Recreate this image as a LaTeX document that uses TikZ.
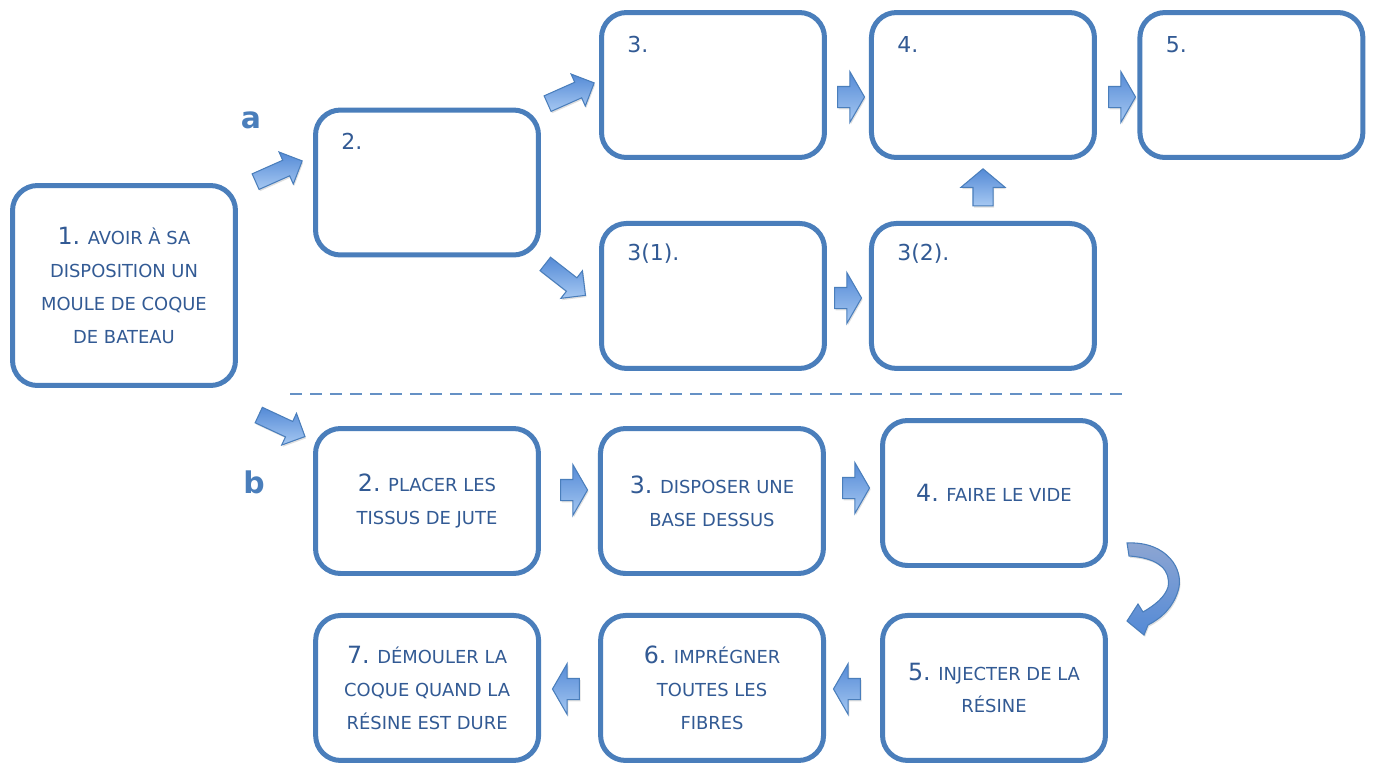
\documentclass[tikz,border=0pt]{standalone}
\usepackage{fontspec}
\setmainfont{DejaVu Sans}
\usetikzlibrary{positioning,shapes.arrows,shadows,calc}

\definecolor{boxblue}{RGB}{74,126,187}
\definecolor{textblue}{RGB}{50,90,148}
\definecolor{arrowlight}{RGB}{166,200,242}
\definecolor{arrowdark}{RGB}{84,138,214}
\definecolor{curvelight}{RGB}{142,166,210}

\newcommand{\stepno}[1]{{\fontsize{13.5}{18.7}\selectfont #1}}

\tikzset{
  stepbox/.style={draw=boxblue, line width=0.1cm, rounded corners=0.5cm, fill=white,
    minimum width=4.46cm, minimum height=2.9cm, align=center, text=textblue,
    font=\fontsize{10.2}{18.7}\selectfont, inner sep=0pt},
  steplabel/.style={anchor=base west, text=textblue, font=\fontsize{12.5}{15}\selectfont, inner sep=0pt},
  partlabel/.style={text=boxblue, font=\fontsize{17}{20}\selectfont\bfseries, inner sep=0pt},
  blockarrow/.style={single arrow, draw=boxblue, line width=0.6pt, top color=arrowdark,
    bottom color=arrowlight, inner xsep=0pt,
    drop shadow={opacity=0.25, shadow xshift=0.6pt, shadow yshift=-1pt}},
  fatarrow/.style={blockarrow, minimum height=0.54cm, inner ysep=0.2cm,
    single arrow head extend=0.3cm, single arrow tip angle=120},
  slimarrow/.style={blockarrow, minimum height=1.02cm, inner ysep=0.16cm,
    single arrow head extend=0.18cm, single arrow tip angle=90},
  uparrow/.style={blockarrow, shape border rotate=90, minimum height=0.74cm,
    inner xsep=0.19cm, inner ysep=0pt,
    single arrow head extend=0.24cm, single arrow tip angle=100},
  dashline/.style={draw=boxblue!85, line width=0.8pt, dash pattern=on 0.24cm off 0.16cm},
}

\begin{document}
\begin{tikzpicture}[x=0.02cm, y=-0.02cm, node distance=5.7cm, on grid]
   \useasboundingbox (0,0) rectangle (1375,765);

   % part a
   \node[stepbox, minimum height=4cm] (s1) at (124,285.5)
      {\stepno{1.} AVOIR À SA\\DISPOSITION UN\\MOULE DE COQUE\\DE BATEAU};
   \node[stepbox] (a2) at (427,182.5) {};
   \node[stepbox] (a3) at (713,85) {};
   \node[stepbox] (a4) [right=5.4cm of a3] {};
   \node[stepbox] (a5) [right=5.37cm of a4] {};
   \node[stepbox] (a31) [below=4.22cm of a3] {};
   \node[stepbox] (a32) [right=5.4cm of a31] {};

   \node[steplabel] (l2) at ($(a2.north west)+(28,42)$) {2.};
   \node[steplabel] (l3) at ($(a3.north west)+(28,42)$) {3.};
   \node[steplabel] (l4) at ($(a4.north west)+(28,42)$) {4.};
   \node[steplabel] (l5) at ($(a5.north west)+(28,42)$) {5.};
   \node[steplabel] (l31) at ($(a31.north west)+(28,40)$) {3(1).};
   \node[steplabel] (l32) at ($(a32.north west)+(28,40)$) {3(2).};

   \node[partlabel] (pa) at (251,120) {a};
   \node[partlabel] (pb) at (254,482) {b};

   % part b
   \node[stepbox] (b2) at (427,501) {\stepno{2.} PLACER LES\\TISSUS DE JUTE};
   \node[stepbox] (b3) [right=of b2] {\stepno{3.} DISPOSER UNE\\BASE DESSUS};
   \node[stepbox] (b4) at (994,493) {\stepno{4.} FAIRE LE VIDE};
   \node[stepbox] (b5) [below=3.9cm of b4] {\stepno{5.} INJECTER DE LA\\RÉSINE};
   \node[stepbox] (b6) [left=5.64cm of b5] {\stepno{6.} IMPRÉGNER\\TOUTES LES\\FIBRES};
   \node[stepbox] (b7) [left=of b6] {\stepno{7.} DÉMOULER LA\\COQUE QUAND LA\\RÉSINE EST DURE};

   \draw[dashline] (290,394) -- (1128,394);

   % arrows
   \node[slimarrow, rotate=24] (r1) at (275,173) {};
   \node[slimarrow, rotate=24] (r2) at (567,95) {};
   \node[fatarrow] (r3) at (848,97) {};
   \node[fatarrow] (r4) at (1119,97) {};
   \node[uparrow] (r5) at (983,191.5) {};
   \node[slimarrow, rotate=-38] (r6) at (562,277) {};
   \node[fatarrow] (r7) at (845,298) {};
   \node[slimarrow, rotate=-25] (r8) at (278,424) {};
   \node[fatarrow] (r9) at (571,490) {};
   \node[fatarrow] (r10) at (853,488) {};
   \node[fatarrow, shape border rotate=180] (r11) at (569,689) {};
   \node[fatarrow, shape border rotate=180] (r12) at (850,689) {};

   \path[draw=boxblue, line width=0.6pt, top color=curvelight, bottom color=arrowdark,
         drop shadow={opacity=0.25, shadow xshift=0.6pt, shadow yshift=-1pt}]
      (1127,543) .. controls (1167,541) and (1185,570) .. (1178,591)
      .. controls (1173,607) and (1162,618) .. (1148,625)
      -- (1144,635) -- (1127,621) -- (1138,604) -- (1143,612)
      .. controls (1155,605) and (1165,597) .. (1168,587)
      .. controls (1171,571) and (1160,558) .. (1129,556) -- cycle;
\end{tikzpicture}
\end{document}
